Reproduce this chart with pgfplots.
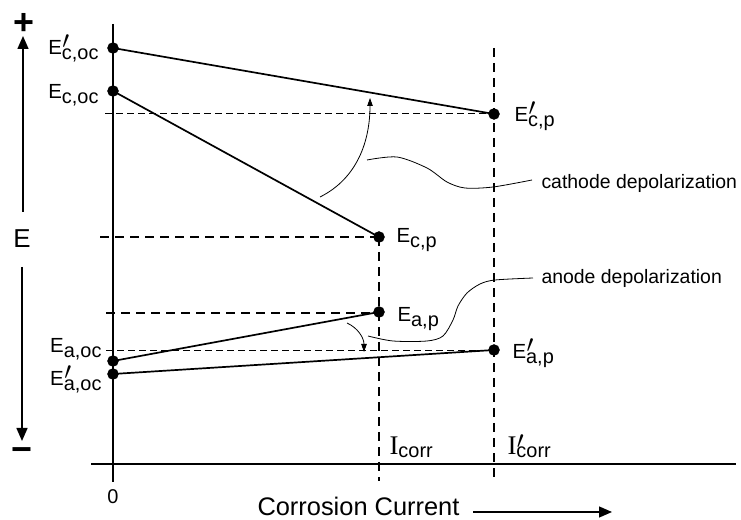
\documentclass[border=0pt]{standalone}
\usepackage{fontspec}
\setmainfont{Liberation Sans}
\newfontfamily\seriff{Liberation Serif}
\usepackage{pgfplots}
\pgfplotsset{compat=1.18}
\usetikzlibrary{arrows.meta}
\newcommand\fs[1]{\fontsize{#1}{#1}\selectfont}
\newcommand\sub[1]{\raisebox{-5bp}{\fs{20}#1}}
\newcommand\pr{\rlap{\kern0.5bp\raisebox{6.5bp}{\fs{25}$\prime$}}}
\newcommand\E{{\fs{20.5}E}}
\begin{document}
\begin{tikzpicture}
\begin{axis}[
  width=741bp, height=520bp, scale only axis,
  xmin=0, xmax=741, ymin=0, ymax=520, y dir=reverse,
  hide axis, clip=false,
  every node/.style={inner sep=0pt, outer sep=0pt},
]
% frame for bounding box
\addplot[draw=none] coordinates {(0,0) (741,520)};
% axes
\addplot[line width=1.5bp] coordinates {(113,24) (113,482)};
\addplot[line width=1.5bp] coordinates {(91,464) (736,464)};
% dashed thick
\addplot[line width=1.6bp, dash pattern=on 9bp off 6bp] coordinates {(379,237) (379,481)};
\addplot[line width=1.6bp, dash pattern=on 9bp off 6bp] coordinates {(494,48) (494,481)};
\addplot[line width=1.6bp, dash pattern=on 9bp off 6bp] coordinates {(100,237) (379,237)};
\addplot[line width=1.6bp, dash pattern=on 9bp off 6bp] coordinates {(106,313) (379,313)};
% dashed thin
\addplot[line width=1bp, dash pattern=on 7bp off 4bp] coordinates {(105,114) (494,114)};
\addplot[line width=1bp, dash pattern=on 7bp off 4bp] coordinates {(106,351) (494,351)};
% polarization lines
\addplot[line width=1.7bp] coordinates {(113,48) (494,114)};
\addplot[line width=1.7bp] coordinates {(113,91) (379,237)};
\addplot[line width=1.7bp] coordinates {(113,361) (379,312)};
\addplot[line width=1.7bp] coordinates {(113,374) (494,350)};
% points
\addplot[only marks, mark=*, mark size=5.5bp, black] coordinates {
  (113,48) (113,91) (494,114) (379,237) (379,312) (494,350) (113,361) (113,374)};
% wavy leader lines
\addplot[line width=0.8bp, smooth] coordinates {
  (367,160) (397,157) (427,168) (447,182) (465,188) (493,187) (532,180)};
\addplot[line width=0.8bp, smooth] coordinates {
  (368,336) (393,341) (427,341) (443,336) (453,320) (458,306) (467,293) (480,284) (495,280) (533,278)};
% curved arrows
\draw[line width=0.8bp, -{Triangle[width=5.5bp,length=8bp]}] (axis cs:320,197) .. controls (axis cs:358,178) and (axis cs:370,140) .. (axis cs:370,98);
\draw[line width=0.8bp, -{Triangle[width=5.5bp,length=8bp]}] (axis cs:347,323) .. controls (axis cs:358,328) and (axis cs:364,338) .. (axis cs:364,352);
% E direction arrows
\draw[line width=1.5bp, -{Triangle[width=11bp,length=13bp]}] (axis cs:23,212) -- (axis cs:23,36);
\draw[line width=1.5bp, -{Triangle[width=11bp,length=13bp]}] (axis cs:22,267) -- (axis cs:22,441);
\draw[line width=1.3bp, -{Triangle[width=11bp,length=13bp]}] (axis cs:473,512) -- (axis cs:612,512);
% texts
\node[anchor=center] at (axis cs:23.5,23.5) {\fs{36}\bfseries +};
\node[anchor=center] at (axis cs:22,455) {\fs{36}\bfseries −};
\node[anchor=center] at (axis cs:22,239) {\fs{26}E};
\node[anchor=base] at (axis cs:113,504) {\fs{20}0};
\node[anchor=base west] at (axis cs:254,516) {\fs{25.5}Corrosion Current};
\node[anchor=base west] at (axis cs:538,189) {\fs{19.5}cathode depolarization};
\node[anchor=base west] at (axis cs:538,284) {\fs{19.5}anode depolarization};
\node[anchor=base east] at (axis cs:102,55) {\E\pr\sub{c,oc}};
\node[anchor=base east] at (axis cs:102,99) {\E\sub{c,oc}};
\node[anchor=base east] at (axis cs:105,353) {\E\sub{a,oc}};
\node[anchor=base east] at (axis cs:105,386) {\E\pr\sub{a,oc}};
\node[anchor=base west] at (axis cs:511,122) {\E\pr\sub{c,p}};
\node[anchor=base west] at (axis cs:393,243) {\E\sub{c,p}};
\node[anchor=base west] at (axis cs:394,322) {\E\sub{a,p}};
\node[anchor=base west] at (axis cs:509,359) {\E\pr\sub{a,p}};
\node[anchor=base west] at (axis cs:386,455) {{\seriff\fs{27}I}\raisebox{-3bp}{\fs{20}corr}};
\node[anchor=base west] at (axis cs:504,455) {{\seriff\fs{27}I}\pr\raisebox{-3bp}{\fs{20}corr}};
\end{axis}
\end{tikzpicture}
\end{document}
